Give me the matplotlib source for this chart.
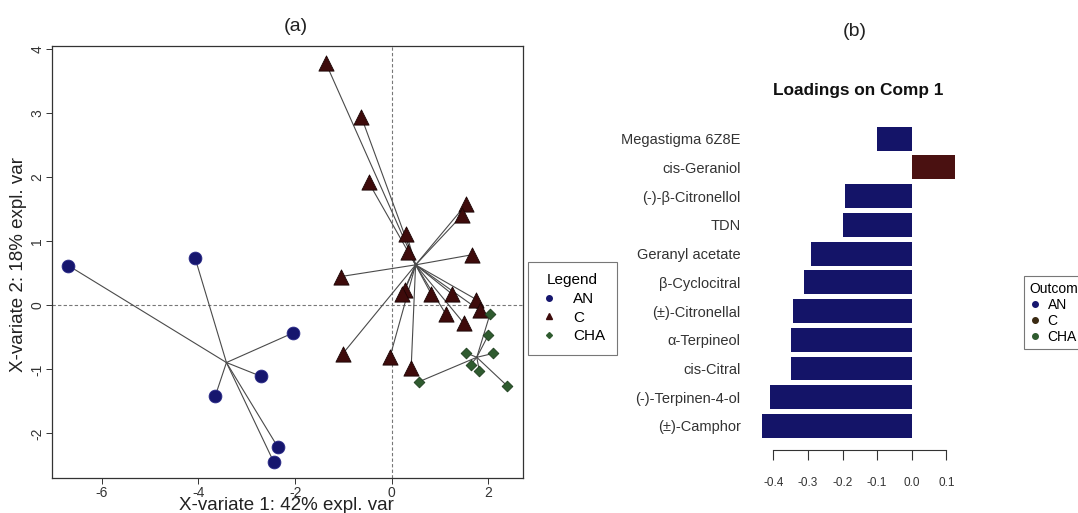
import matplotlib
matplotlib.use("Agg")
import matplotlib.pyplot as plt
from matplotlib.lines import Line2D
import numpy as np

plt.rcParams['font.family'] = ['Liberation Sans', 'DejaVu Sans']

# ---- Panel (a) data: X-variate scores ----
an_x = [-6.69, -4.07, -2.04, -2.70, -3.65, -2.36, -2.44]
an_y = [0.62, 0.74, -0.43, -1.11, -1.41, -2.21, -2.45]
c_x = [-1.37, -0.63, -0.48, 1.54, 1.46, 0.30, 0.34, 1.66, -1.05, 0.27,
       0.22, 0.82, 1.24, 1.75, 1.82, 1.12, 1.49, -1.02, -0.04, 0.40]
c_y = [3.79, 2.94, 1.92, 1.58, 1.41, 1.12, 0.83, 0.79, 0.45, 0.24,
       0.18, 0.17, 0.18, 0.09, -0.08, -0.14, -0.28, -0.76, -0.81, -0.98]
cha_x = [2.03, 2.00, 2.10, 1.53, 1.63, 1.81, 0.57, 2.39]
cha_y = [-0.14, -0.46, -0.75, -0.74, -0.93, -1.02, -1.19, -1.26]

groups = ["AN", "C", "CHA"]
x_ticks_a = [-6, -4, -2, 0, 2]
y_ticks_a = [-2, -1, 0, 1, 2, 3, 4]

# ---- Panel (b) data: loadings on component 1 (bottom to top) ----
compounds = ["(±)-Camphor", "(-)-Terpinen-4-ol", "cis-Citral", "α-Terpineol",
             "(±)-Citronellal", "β-Cyclocitral", "Geranyl acetate", "TDN",
             "(-)-β-Citronellol", "cis-Geraniol", "Megastigma 6Z8E"]
loadings = [-0.432, -0.410, -0.350, -0.350, -0.344, -0.312, -0.291, -0.200,
            -0.193, 0.125, -0.101]
bar_group = ["AN", "AN", "AN", "AN", "AN", "AN", "AN", "AN", "AN", "C", "AN"]
x_ticks_b = [-0.4, -0.3, -0.2, -0.1, 0.0, 0.1]

col_an = "#16166e"
col_c = "#3e0b0b"
col_cha = "#2f5b2f"
bar_cols = {"AN": "#141468", "C": "#4a1111"}

W, H = 1078, 513
fig = plt.figure(figsize=(W / 100, H / 100), dpi=100)

# ================= Panel (a) =================
ax = fig.add_axes([52 / W, 1 - 478.3 / H, (523.3 - 52) / W, (478.3 - 45.9) / H])
ax.set_xlim(-7.03, 2.72)
ax.set_ylim(-2.70, 4.05)
ax.axhline(0, color="#777777", lw=0.8, ls=(0, (3, 2)), zorder=1)
ax.axvline(0, color="#777777", lw=0.8, ls=(0, (3, 2)), zorder=1)

def star(xs, ys, color, marker, s, ec):
    xs = np.asarray(xs); ys = np.asarray(ys)
    cx, cy = xs.mean(), ys.mean()
    for x, y in zip(xs, ys):
        ax.plot([cx, x], [cy, y], color="#4a4a4a", lw=0.8, zorder=2)
    ax.scatter(xs, ys, s=s, c=color, marker=marker, edgecolors=ec,
               linewidths=0.6, zorder=3)

star(an_x, an_y, col_an, "o", 85, "#2a2a88")
star(c_x, c_y, col_c, "^", 120, "#1a0505")
star(cha_x, cha_y, col_cha, "D", 30, "#1e3e1e")

ax.set_xticks(x_ticks_a)
ax.set_xticklabels([str(v) for v in x_ticks_a])
ax.set_yticks(y_ticks_a)
ax.set_yticklabels([str(v) for v in y_ticks_a], rotation=90, va="center")
ax.tick_params(axis="both", labelsize=10, length=4, width=0.7, pad=1.5,
               colors="#333333")
for sp in ax.spines.values():
    sp.set_linewidth(0.9)
    sp.set_color("#333333")

fig.text(286 / W, 1 - 505 / H, "X-variate 1: 42% expl. var", fontsize=13.5,
         ha="center", va="center", color="#222222")
fig.text(18.6 / W, 1 - 264 / H, "X-variate 2: 18% expl. var", fontsize=13.5,
         ha="center", va="center", rotation=90, color="#222222")
fig.text(296 / W, 1 - 27 / H, "(a)", fontsize=14, ha="center", va="center",
         color="#222222")

handles_a = [
    Line2D([], [], ls="none", marker="o", ms=4, color=col_an),
    Line2D([], [], ls="none", marker="^", ms=5, color=col_c),
    Line2D([], [], ls="none", marker="D", ms=3, color=col_cha),
]
leg = fig.legend(handles_a, groups, title="Legend", loc="upper left",
                 bbox_to_anchor=(528 / W, 1 - 262 / H), fontsize=11,
                 title_fontsize=11, frameon=True, fancybox=False,
                 borderpad=0.75, labelspacing=0.3, handletextpad=1.0,
                 handlelength=1.2, borderaxespad=0)
leg.get_frame().set_edgecolor("#555555")
leg.get_frame().set_linewidth(0.8)

# ================= Panel (b) =================
bx = fig.add_axes([754.6 / W, 1 - 450.4 / H, (962.6 - 754.6) / W, (450.4 - 114.3) / H])
ypos = [0.7 + 1.2 * i for i in range(len(compounds))]
bx.barh(ypos, loadings, height=1.0, color=[bar_cols[g] for g in bar_group],
        edgecolor="none")
bx.set_xlim(-0.454, 0.147)
bx.set_ylim(-0.32, 13.72)
bx.set_yticks(ypos)
bx.set_yticklabels(compounds, fontsize=10.5, color="#333333")
bx.tick_params(axis="y", length=0, pad=10)
bx.set_xticks(x_ticks_b)
bx.set_xticklabels([f"{v:.1f}" for v in x_ticks_b])
bx.tick_params(axis="x", labelsize=8.5, length=7, width=0.8, pad=12,
               colors="#333333")
for k in ["left", "right", "top"]:
    bx.spines[k].set_visible(False)
bx.spines["bottom"].set_bounds(-0.4, 0.1)
bx.spines["bottom"].set_linewidth(0.8)
bx.spines["bottom"].set_color("#333333")
fig.text(858 / W, 1 - 90 / H, "Loadings on Comp 1", fontsize=12.4,
         fontweight="bold", ha="center", va="center", color="#111111")
fig.text(855 / W, 1 - 32 / H, "(b)", fontsize=14, ha="center", va="center",
         color="#222222")

handles_b = [
    Line2D([], [], ls="none", marker="o", ms=4, color=col_an),
    Line2D([], [], ls="none", marker="o", ms=4, color="#3a2a12"),
    Line2D([], [], ls="none", marker="o", ms=4, color=col_cha),
]
leg2 = fig.legend(handles_b, groups, title="Outcome", loc="upper left",
                  bbox_to_anchor=(1024 / W, 1 - 276 / H), fontsize=10,
                  title_fontsize=10, frameon=True, fancybox=False,
                  borderpad=0.4, labelspacing=0.15, handletextpad=0.5,
                  handlelength=0.8, borderaxespad=0)
leg2._legend_box.align = "left"
leg2.get_frame().set_edgecolor("#555555")
leg2.get_frame().set_linewidth(0.8)

fig.savefig("out.png", dpi=100)
